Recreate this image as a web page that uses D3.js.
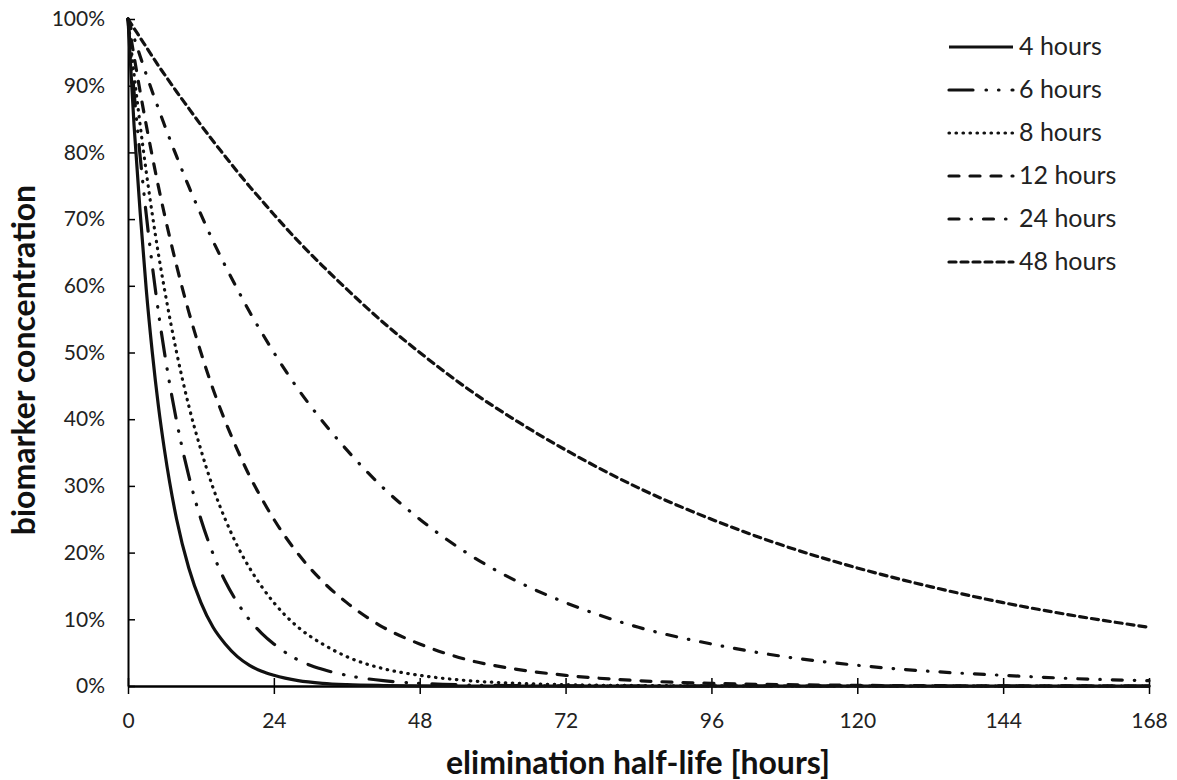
<!DOCTYPE html>
<html>
<head>
<meta charset="utf-8">
<script src="https://cdn.jsdelivr.net/npm/d3@7"></script>
<style>
  body { margin: 0; background: #fff; }
  svg { display: block; font-family: Lato, "Open Sans", sans-serif; }
</style>
</head>
<body>
<div id="chart"></div>
<script>
// sample times [hours]
const hours = [0, 1, 2, 3, 4, 5, 6, 8, 10, 12, 14, 16, 18, 20, 22, 24, 28, 32, 36, 42, 48, 56, 64, 72, 84, 96, 108, 120, 132, 144, 156, 168];

// concentration [%]
const conc4h  = [100, 84, 71, 59.5, 50, 42, 35.4, 25, 17.7, 12.5, 8.8, 6.3, 4.4, 3.1, 2.2, 1.6, 0.8, 0.4, 0.2, 0.07, 0.02, 0, 0, 0, 0, 0, 0, 0, 0, 0, 0, 0];
const conc6h  = [100, 89, 79.4, 70.7, 63, 56.1, 50, 39.7, 31.5, 25, 19.8, 15.7, 12.5, 9.9, 7.9, 6.3, 3.9, 2.5, 1.6, 0.8, 0.4, 0.15, 0.06, 0.02, 0, 0, 0, 0, 0, 0, 0, 0];
const conc8h  = [100, 91.7, 84.1, 77.1, 70.7, 64.8, 59.5, 50, 42, 35.4, 29.7, 25, 21, 17.7, 14.9, 12.5, 8.8, 6.3, 4.4, 2.6, 1.6, 0.8, 0.4, 0.2, 0.07, 0.02, 0, 0, 0, 0, 0, 0];
const conc12h = [100, 94.4, 89.1, 84.1, 79.4, 74.9, 70.7, 63, 56.1, 50, 44.5, 39.7, 35.4, 31.5, 28.1, 25, 19.8, 15.7, 12.5, 8.8, 6.3, 3.9, 2.5, 1.6, 0.8, 0.4, 0.2, 0.1, 0.05, 0.02, 0.01, 0];
const conc24h = [100, 97.2, 94.4, 91.7, 89.1, 86.6, 84.1, 79.4, 74.9, 70.7, 66.7, 63, 59.5, 56.1, 53, 50, 44.5, 39.7, 35.4, 29.7, 25, 19.8, 15.7, 12.5, 8.8, 6.3, 4.4, 3.1, 2.2, 1.6, 1.1, 0.8];
const conc48h = [100, 98.6, 97.2, 95.8, 94.4, 93, 91.7, 89.1, 86.6, 84.1, 81.7, 79.4, 77.1, 74.9, 72.8, 70.7, 66.7, 63, 59.5, 54.5, 50, 44.5, 39.7, 35.4, 29.7, 25, 21, 17.7, 14.9, 12.5, 10.5, 8.8];

const seriesNames = ["4 hours", "6 hours", "8 hours", "12 hours", "24 hours", "48 hours"];
const seriesValues = [conc4h, conc6h, conc8h, conc12h, conc24h, conc48h];
const xTicks = [0, 24, 48, 72, 96, 120, 144, 168];
const yTicks = [0, 10, 20, 30, 40, 50, 60, 70, 80, 90, 100];

// line styles per series
const dashes = ["none", "24,13,0.5,12,0.5,13", "0.5,6.5", "10,11", "10,12,0.5,12", "7,5"];

const width = 1177, height = 780;
const margin = {top: 19, right: 28, bottom: 94, left: 128};

const svg = d3.select("#chart").append("svg")
    .attr("width", width)
    .attr("height", height);

const x = d3.scaleLinear()
    .domain([0, 168])
    .range([margin.left, width - margin.right]);

const y = d3.scaleLinear()
    .domain([0, 100])
    .range([height - margin.bottom, margin.top]);

// axes
const xAxis = svg.append("g")
    .attr("transform", `translate(0,${y(0)})`)
    .call(d3.axisBottom(x).tickValues(xTicks).tickSize(8).tickPadding(19).tickSizeOuter(0));
xAxis.selectAll(".tick line").attr("y1", -8).attr("stroke-width", 1.5);
xAxis.select(".domain").attr("stroke-width", 2.5);

const yAxis = svg.append("g")
    .attr("transform", `translate(${x(0)},0)`)
    .call(d3.axisLeft(y).tickValues(yTicks).tickFormat(d => d + "%").tickSize(7).tickPadding(16).tickSizeOuter(0));
yAxis.selectAll(".tick line").attr("x2", 7).attr("stroke-width", 1.5);
yAxis.select(".domain").attr("stroke-width", 2);

svg.selectAll(".tick text")
    .attr("font-size", 21)
    .attr("fill", "#222")
    .attr("font-family", "Lato, sans-serif");

// curves
const line = d3.line()
    .x((d, i) => x(hours[i]))
    .y(d => y(d))
    .curve(d3.curveMonotoneX);

svg.append("g")
    .selectAll("path")
    .data(seriesValues)
    .enter().append("path")
    .attr("d", line)
    .attr("fill", "none")
    .attr("stroke", "#111")
    .attr("stroke-width", 3.2)
    .attr("stroke-linecap", (d, i) => i === 0 ? "butt" : "round")
    .attr("stroke-dasharray", (d, i) => dashes[i]);

// legend
const legend = svg.append("g");
seriesNames.forEach((name, i) => {
    const ly = 47 + i * 43;
    legend.append("line")
        .attr("x1", 949).attr("x2", 1013)
        .attr("y1", ly).attr("y2", ly)
        .attr("stroke", "#111")
        .attr("stroke-width", 3.2)
        .attr("stroke-linecap", i === 0 ? "butt" : "round")
        .attr("stroke-dasharray", dashes[i]);
    legend.append("text")
        .attr("x", 1019)
        .attr("y", ly + 8)
        .style("font-size", "25px")
        .attr("fill", "#222")
        .text(name);
});

// axis titles
svg.append("text")
    .attr("x", 638)
    .attr("y", 774)
    .attr("text-anchor", "middle")
    .style("font-size", "32px")
    .style("font-weight", "bold")
    .attr("fill", "#111")
    .text("elimination half-life [hours]");

svg.append("text")
    .attr("transform", "translate(35,360) rotate(-90)")
    .attr("text-anchor", "middle")
    .style("font-size", "32px")
    .style("font-weight", "bold")
    .attr("fill", "#111")
    .text("biomarker concentration");
</script>
</body>
</html>
